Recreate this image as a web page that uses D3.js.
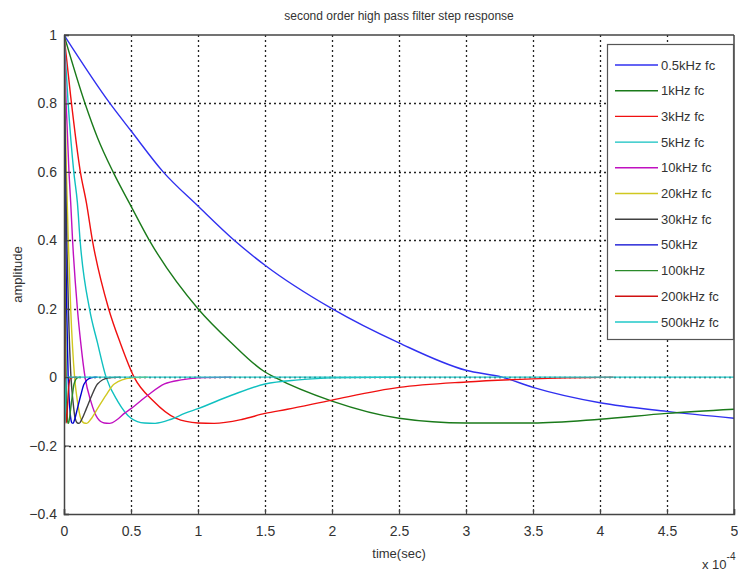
<!DOCTYPE html>
<html>
<head>
<meta charset="utf-8">
<script src="https://cdn.jsdelivr.net/npm/d3@7"></script>
<style>
  body { margin: 0; background: #fff; }
  svg { display: block; }
  text { font-family: "Liberation Sans Narrow", "Arial Narrow", "Liberation Sans", sans-serif; fill: #333; }
</style>
</head>
<body>
<div id="chart"></div>
<script>
// time in units of 1e-4 s, amplitude
const f0_5kHz = [[0,1],[0.343,0.8],[0.5,0.72],[0.74,0.6],[1.0,0.5],[1.27,0.4],[1.5,0.327],[2.0,0.2],[2.5,0.10],[3.0,0.02],[3.27,0],[3.5,-0.03],[4.0,-0.075],[4.5,-0.10],[5.0,-0.12]];
const f1kHz = [[0,1],[0.157,0.8],[0.25,0.7],[0.366,0.6],[0.5,0.5],[0.637,0.4],[1.0,0.2],[1.25,0.1],[1.5,0.015],[1.57,0],[2.0,-0.07],[2.5,-0.12],[3.0,-0.134],[3.5,-0.134],[4.0,-0.123],[4.5,-0.106],[5.0,-0.094]];
const f3kHz = [[0,1],[0.05,0.82],[0.122,0.6],[0.167,0.51],[0.212,0.4],[0.333,0.2],[0.42,0.1],[0.523,0],[0.667,-0.07],[0.833,-0.12],[1.0,-0.134],[1.12,-0.135],[1.333,-0.123],[1.5,-0.106],[1.667,-0.094],[2.0,-0.067],[2.5,-0.03],[3.0,-0.014],[3.5,-0.005],[4.1,0]];
const f5kHz = [[0,1],[0.031,0.8],[0.073,0.6],[0.1,0.51],[0.12,0.4],[0.19,0.2],[0.25,0.1],[0.314,0],[0.4,-0.07],[0.5,-0.12],[0.6,-0.134],[0.68,-0.135],[0.8,-0.123],[0.9,-0.106],[1.0,-0.092],[1.25,-0.053],[1.5,-0.02],[1.75,-0.008],[2.0,-0.002],[2.5,0]];
const f10kHz = [[0,1],[0.016,0.8],[0.037,0.6],[0.05,0.51],[0.064,0.4],[0.1,0.2],[0.125,0.1],[0.157,0],[0.2,-0.07],[0.25,-0.12],[0.3,-0.134],[0.34,-0.135],[0.4,-0.123],[0.45,-0.106],[0.5,-0.092],[0.625,-0.053],[0.75,-0.02],[0.875,-0.008],[1.0,-0.002],[1.25,0]];
const f20kHz = [[0,1],[0.008,0.8],[0.018,0.6],[0.032,0.4],[0.05,0.2],[0.079,0],[0.1,-0.07],[0.125,-0.12],[0.15,-0.134],[0.17,-0.135],[0.2,-0.123],[0.25,-0.092],[0.3125,-0.053],[0.375,-0.02],[0.5,-0.002],[0.625,0]];
const f30kHz = [[0,1],[0.005,0.8],[0.012,0.6],[0.021,0.4],[0.033,0.2],[0.052,0],[0.067,-0.07],[0.083,-0.12],[0.1,-0.134],[0.113,-0.135],[0.133,-0.123],[0.167,-0.092],[0.208,-0.053],[0.25,-0.02],[0.333,-0.002],[0.42,0]];
const f50kHz = [[0,1],[0.007,0.6],[0.013,0.4],[0.02,0.2],[0.031,0],[0.04,-0.07],[0.05,-0.12],[0.06,-0.134],[0.068,-0.135],[0.08,-0.123],[0.1,-0.092],[0.125,-0.053],[0.15,-0.02],[0.2,-0.002],[0.25,0]];
const f100kHz = [[0,1],[0.006,0.4],[0.01,0.2],[0.016,0],[0.02,-0.07],[0.025,-0.12],[0.03,-0.134],[0.034,-0.135],[0.04,-0.123],[0.05,-0.092],[0.0625,-0.053],[0.075,-0.02],[0.1,-0.002],[0.125,0]];
const f200kHz = [[0,1],[0.005,0.2],[0.008,0],[0.01,-0.07],[0.015,-0.134],[0.02,-0.123],[0.025,-0.092],[0.0375,-0.02],[0.05,-0.002],[0.1,0]];
const f500kHz = [[0,1],[0.002,0.2],[0.003,0],[0.004,-0.07],[0.006,-0.134],[0.008,-0.123],[0.012,-0.06],[0.02,-0.002],[0.04,0],[5.0,0]];

const seriesNames = ['0.5kHz fc', '1kHz fc', '3kHz fc', '5kHz fc', '10kHz fc', '20kHz fc', '30kHz fc', '50kHz', '100kHz', '200kHz fc', '500kHz fc'];
const seriesData = [f0_5kHz, f1kHz, f3kHz, f5kHz, f10kHz, f20kHz, f30kHz, f50kHz, f100kHz, f200kHz, f500kHz];
const seriesColors = ['#3030f0', '#1a7a1a', '#f01010', '#10c0c0', '#c010c0', '#d0c820', '#404040', '#0000d0', '#2a8a2a', '#d01010', '#20c8c8'];

const xTicks = [0, 0.5, 1, 1.5, 2, 2.5, 3, 3.5, 4, 4.5, 5];
const yTicks = [-0.4, -0.2, 0, 0.2, 0.4, 0.6, 0.8, 1];

const width = 738, height = 573;
const plot = { left: 64, right: 734, top: 35, bottom: 514 };

const svg = d3.select('#chart')
    .append('svg')
    .attr('width', width)
    .attr('height', height);

const x = d3.scaleLinear().domain([0, 5]).range([plot.left, plot.right]);
const y = d3.scaleLinear().domain([-0.4, 1]).range([plot.bottom, plot.top]);

svg.append('clipPath')
    .attr('id', 'clip')
    .append('rect')
    .attr('x', plot.left)
    .attr('y', plot.top)
    .attr('width', plot.right - plot.left)
    .attr('height', plot.bottom - plot.top);

// grid
const grid = svg.append('g');
grid.selectAll('.vgrid')
    .data(xTicks.slice(1, -1))
    .enter()
    .append('line')
    .attr('x1', d => Math.round(x(d)) + 0.5)
    .attr('x2', d => Math.round(x(d)) + 0.5)
    .attr('y1', plot.top)
    .attr('y2', plot.bottom)
    .style('stroke', '#222')
    .style('stroke-dasharray', '2,3')
    .style('stroke-width', 1.3);
grid.selectAll('.hgrid')
    .data(yTicks.slice(1, -1))
    .enter()
    .append('line')
    .attr('y1', d => Math.round(y(d)) + 0.5)
    .attr('y2', d => Math.round(y(d)) + 0.5)
    .attr('x1', plot.left)
    .attr('x2', plot.right)
    .style('stroke', '#222')
    .style('stroke-dasharray', '2,3')
    .style('stroke-width', 1.3);

// curves
const line = d3.line()
    .x(d => x(d[0]))
    .y(d => y(d[1]))
    .curve(d3.curveMonotoneX);

svg.append('g')
    .attr('clip-path', 'url(#clip)')
    .selectAll('.curve')
    .data(seriesData)
    .enter()
    .append('path')
    .attr('d', d => line(d))
    .style('fill', 'none')
    .style('stroke', (d, i) => seriesColors[i])
    .style('stroke-width', 1.4);

// axes
const xAxis = d3.axisBottom(x)
    .tickValues(xTicks)
    .tickSize(-5)
    .tickPadding(12)
    .tickFormat(d3.format('~g'));
const yAxis = d3.axisLeft(y)
    .tickValues(yTicks)
    .tickSize(-5)
    .tickPadding(7)
    .tickFormat(d3.format('~g'));

const gx = svg.append('g')
    .attr('transform', `translate(0,${plot.bottom})`)
    .call(xAxis);
const gy = svg.append('g')
    .attr('transform', `translate(${plot.left},0)`)
    .call(yAxis);
[gx, gy].forEach(g => {
    g.select('.domain').style('stroke', '#444').style('stroke-width', 1.5);
    g.selectAll('.tick line').style('stroke', '#444').style('stroke-width', 1.2);
    g.selectAll('.tick text').style('font-size', '14px').style('fill', '#333')
        .style('font-family', '"Liberation Sans Narrow", "Arial Narrow", "Liberation Sans", sans-serif');
});

// box top/right
svg.append('line')
    .attr('x1', plot.left).attr('x2', plot.right)
    .attr('y1', plot.top).attr('y2', plot.top)
    .style('stroke', '#444').style('stroke-width', 1.5);
svg.append('line')
    .attr('x1', plot.right).attr('x2', plot.right)
    .attr('y1', plot.top).attr('y2', plot.bottom)
    .style('stroke', '#444').style('stroke-width', 1.5);

// labels
svg.append('text')
    .attr('x', (plot.left + plot.right) / 2)
    .attr('y', 20)
    .style('text-anchor', 'middle')
    .style('font-size', '12px')
    .text('second order high pass filter step response');
svg.append('text')
    .attr('x', (plot.left + plot.right) / 2)
    .attr('y', 558)
    .style('text-anchor', 'middle')
    .style('font-size', '13px')
    .text('time(sec)');
svg.append('text')
    .attr('transform', `translate(22,${(plot.top + plot.bottom) / 2}) rotate(-90)`)
    .style('text-anchor', 'middle')
    .style('font-size', '13px')
    .text('amplitude');
const mult = svg.append('text')
    .attr('x', 702)
    .attr('y', 569)
    .style('font-size', '13px');
mult.append('tspan').text('x 10');
mult.append('tspan').attr('dy', -9).style('font-size', '10px').text('-4');

// legend
const legend = svg.append('g');
legend.append('rect')
    .attr('x', 607.5)
    .attr('y', 44.5)
    .attr('width', 126)
    .attr('height', 295)
    .style('fill', '#fff')
    .style('stroke', '#555')
    .style('stroke-width', 1.2);
legend.selectAll('.legend_line')
    .data(seriesNames)
    .enter()
    .append('line')
    .attr('x1', 615)
    .attr('x2', 658)
    .attr('y1', (d, i) => 65 + i * 25.7)
    .attr('y2', (d, i) => 65 + i * 25.7)
    .style('stroke', (d, i) => seriesColors[i])
    .style('stroke-width', 1.4);
legend.selectAll('.legend_text')
    .data(seriesNames)
    .enter()
    .append('text')
    .attr('x', 661)
    .attr('y', (d, i) => 65 + i * 25.7)
    .attr('dy', '0.35em')
    .style('font-size', '13px')
    .text(d => d);
</script>
</body>
</html>
